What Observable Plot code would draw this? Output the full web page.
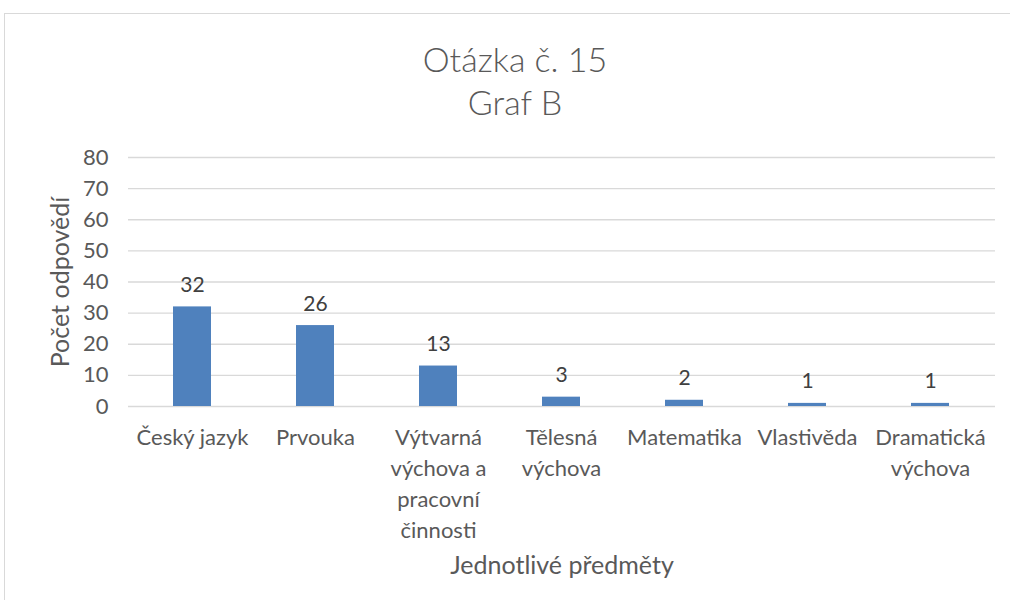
<!DOCTYPE html>
<html>
<head>
<meta charset="utf-8">
<script src="https://cdn.jsdelivr.net/npm/d3@7"></script>
<script src="https://cdn.jsdelivr.net/npm/@observablehq/plot@0.6"></script>
<style>
  html, body { margin: 0; padding: 0; background: #fff; overflow: hidden; }
  #frame { position: absolute; left: 4px; top: 13px; width: 1020px; height: 620px; border: 1px solid #d9d9d9; box-sizing: border-box; }
  #title { position: absolute; left: 0; top: 37px; width: 1030px; text-align: center; font-family: Lato, "Open Sans", sans-serif; font-weight: 300; font-size: 34px; line-height: 43px; color: #595959; }
  #chart { position: absolute; left: 0; top: 140px; }
</style>
</head>
<body>
<div id="frame"></div>
<div id="title">Otázka č. 15<br>Graf B</div>
<div id="chart"></div>
<script>
const categories = ["Český jazyk", "Prvouka", "Výtvarná\nvýchova a\npracovní\nčinnosti", "Tělesná\nvýchova", "Matematika", "Vlastivěda", "Dramatická\nvýchova"];
const values = [32, 26, 13, 3, 2, 1, 1];
const yTicks = [0, 10, 20, 30, 40, 50, 60, 70, 80];
const yLabel = "Počet odpovědí";
const xLabel = "Jednotlivé předměty";

const data = categories.map((c, i) => ({cat: c, value: values[i]}));

const chart = Plot.plot({
  width: 1010,
  height: 460,
  marginLeft: 128,
  marginRight: 15,
  marginTop: 17,
  marginBottom: 194,
  style: {fontFamily: "Lato, 'Open Sans', sans-serif", fontSize: "22px", color: "#595959", background: "transparent"},
  x: {domain: categories, paddingInner: 0.69, paddingOuter: 0.345, label: null},
  y: {domain: [0, 80], ticks: yTicks, label: null},
  marks: [
    Plot.gridY(yTicks, {stroke: "#d9d9d9", strokeOpacity: 1, strokeWidth: 1.3}),
    Plot.barY(data, {x: "cat", y: "value", fill: "#4f81bd"}),
    Plot.text(data, {x: "cat", y: "value", text: d => String(d.value), dy: -15, lineAnchor: "bottom", fontSize: 21, fill: "#404040"}),
    Plot.axisY(yTicks, {tickSize: 0, tickPadding: 20, label: null, fontSize: 22, fill: "#595959"}),
    Plot.axisX({tickSize: 0, tickPadding: 17, label: null, lineHeight: 1.4, fontSize: 22, fill: "#595959"}),
    Plot.text([yLabel], {frameAnchor: "left", dx: -68, rotate: -90, textAnchor: "middle", lineAnchor: "middle", fontSize: 25, fill: "#595959"}),
    Plot.text([xLabel], {frameAnchor: "bottom", dy: 159, lineAnchor: "middle", fontSize: 25, fill: "#595959"})
  ]
});
document.getElementById("chart").appendChild(chart);
</script>
</body>
</html>
